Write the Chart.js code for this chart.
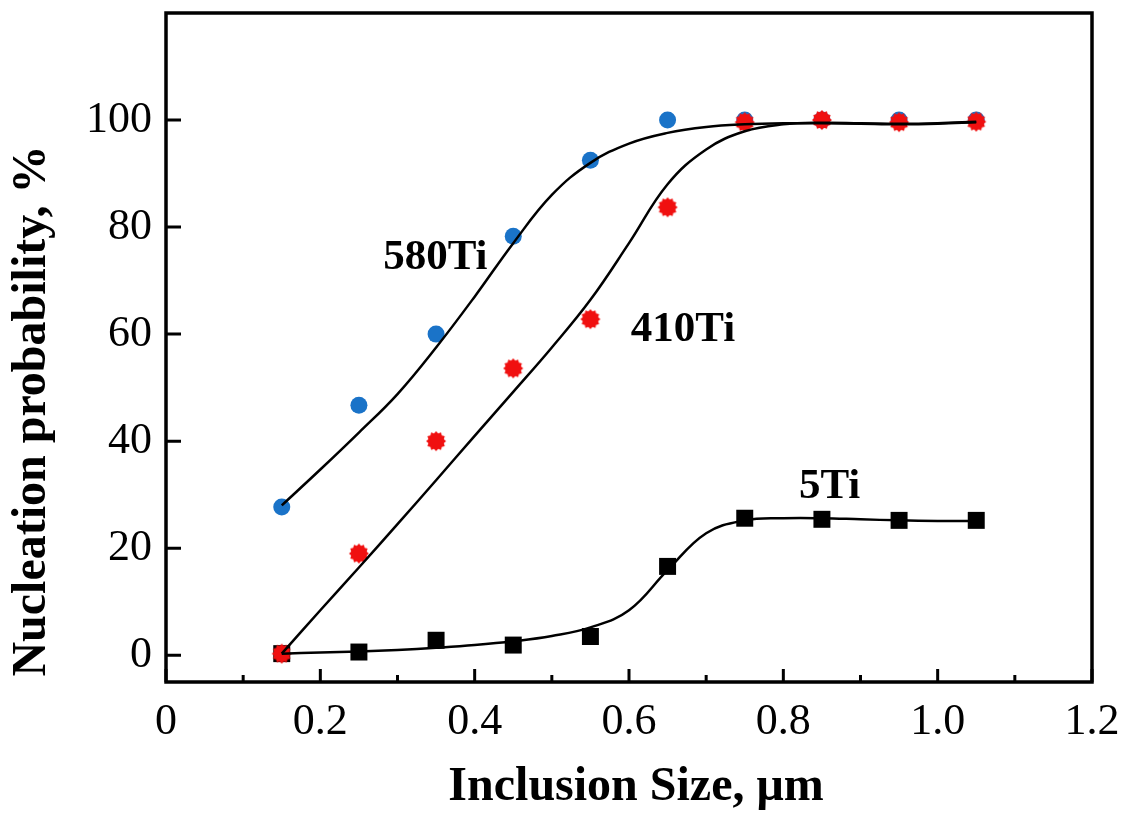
<!DOCTYPE html>
<html>
<head>
<meta charset="utf-8">
<script src="https://cdn.jsdelivr.net/npm/chart.js@4"></script>
<style>
  html, body { margin: 0; background: #fff; }
</style>
</head>
<body>
<canvas id="chart" width="1126" height="818"></canvas>
<script>
// measured points
const sizes = [0.15, 0.25, 0.35, 0.45, 0.55, 0.65, 0.75, 0.85, 0.95, 1.05];
const prob580 = [27.7, 46.7, 60.0, 78.3, 92.5, 100, 100, 100, 100, 100];
const prob410 = [0.3, 19.0, 40.0, 53.6, 62.8, 83.7, 99.6, 100, 99.6, 99.7];
const prob5 = [0.3, 0.6, 2.8, 1.9, 3.5, 16.6, 25.6, 25.4, 25.2, 25.2];

// fitted curves
const fitX = [0.15, 0.2, 0.25, 0.3, 0.35, 0.4, 0.45, 0.5, 0.55, 0.6, 0.65, 0.7, 0.75, 0.8, 0.85, 0.9, 0.95, 1.0, 1.05];
const fit580 = [28, 34.7, 41.6, 48.8, 57.5, 67, 77, 86, 92, 95.6, 97.6, 98.7, 99.2, 99.4, 99.4, 99.3, 99.2, 99.3, 99.6];
const fit410 = [0.3, 8.4, 16.4, 24.5, 32.7, 41, 49.2, 57.5, 66.4, 77, 88, 94.5, 97.9, 99.2, 99.5, 99.4, 99.3, 99.4, 99.7];
const fit5 = [0.3, 0.5, 0.7, 1.0, 1.4, 1.9, 2.6, 3.6, 5.2, 8.4, 15.9, 22.8, 25.2, 25.6, 25.6, 25.4, 25.2, 25.1, 25.1];

const xMajor = [0, 0.2, 0.4, 0.6, 0.8, 1.0, 1.2];
const xLabels = ['0', '0.2', '0.4', '0.6', '0.8', '1.0', '1.2'];
const xMinor = [0.1, 0.3, 0.5, 0.7, 0.9, 1.1];
const yMajor = [0, 20, 40, 60, 80, 100];

const xTitle = 'Inclusion Size, μm';
const yTitle = 'Nucleation probability, %';

const notes = [
    { text: '580Ti', x: 0.349, y: 74.2 },
    { text: '410Ti', x: 0.67, y: 60.7 },
    { text: '5Ti', x: 0.86, y: 31.4 }
];

function pts(xs, ys) {
    return xs.map((x, i) => ({ x: x, y: ys[i] }));
}

function burst(color, r) {
    const c = document.createElement('canvas');
    const s = Math.ceil(r * 2 + 2);
    c.width = c.height = s;
    const g = c.getContext('2d');
    g.beginPath();
    const n = 12;
    for (let i = 0; i < n * 2; i++) {
        const a = i * Math.PI / n;
        const rr = i % 2 ? r * 0.8 : r;
        g.lineTo(s / 2 + rr * Math.cos(a), s / 2 + rr * Math.sin(a));
    }
    g.closePath();
    g.fillStyle = color;
    g.fill();
    return c;
}

function noPad(s) {
    s.paddingTop = 0;
    s.paddingBottom = 0;
    s.paddingLeft = 0;
    s.paddingRight = 0;
}

const serif = '"Liberation Serif", "Times New Roman", serif';

const framePlugin = {
    id: 'frame',
    afterDraw(chart) {
        const { ctx, chartArea: a, scales } = chart;
        ctx.save();
        ctx.strokeStyle = '#000';
        ctx.lineWidth = 3;
        ctx.lineCap = 'butt';
        ctx.beginPath();
        xMajor.forEach(v => {
            const px = scales.x.getPixelForValue(v);
            ctx.moveTo(px, a.bottom);
            ctx.lineTo(px, a.bottom - 13);
        });
        xMinor.forEach(v => {
            const px = scales.x.getPixelForValue(v);
            ctx.moveTo(px, a.bottom);
            ctx.lineTo(px, a.bottom - 7);
        });
        yMajor.forEach(v => {
            const py = scales.y.getPixelForValue(v);
            ctx.moveTo(a.left, py);
            ctx.lineTo(a.left + 15, py);
        });
        ctx.stroke();
        ctx.lineWidth = 3.5;
        ctx.strokeRect(a.left, a.top, a.right - a.left, a.bottom - a.top);

        ctx.fillStyle = '#000';
        ctx.textAlign = 'center';
        ctx.textBaseline = 'middle';
        ctx.font = 'bold 43px ' + serif;
        notes.forEach(n => {
            ctx.fillText(n.text, scales.x.getPixelForValue(n.x), scales.y.getPixelForValue(n.y));
        });

        // axis titles
        ctx.font = 'bold 48px ' + serif;
        ctx.fillText(xTitle, 636, 788);
        ctx.translate(33, 411);
        ctx.rotate(-Math.PI / 2);
        ctx.fillText(yTitle, 0, 0);
        ctx.restore();
    }
};

const fitLine = {
    showLine: true,
    borderColor: '#000',
    borderWidth: 2.5,
    pointRadius: 0,
    tension: 0.4,
    order: 0
};

const ctx = document.getElementById('chart').getContext('2d');
const chart = new Chart(ctx, {
    type: 'scatter',
    data: {
        datasets: [
            { ...fitLine, label: '580Ti fit', data: pts(fitX, fit580) },
            { ...fitLine, label: '410Ti fit', data: pts(fitX, fit410) },
            { ...fitLine, label: '5Ti fit', data: pts(fitX, fit5) },
            {
                label: '410Ti',
                data: pts(sizes, prob410),
                pointStyle: burst('#f01010', 10),
                order: 1
            },
            {
                label: '580Ti',
                data: pts(sizes, prob580),
                pointStyle: 'circle',
                pointRadius: 8.5,
                backgroundColor: '#1a73c8',
                borderWidth: 0,
                order: 2
            },
            {
                label: '5Ti',
                data: pts(sizes, prob5),
                pointStyle: 'rect',
                pointRadius: 12,
                backgroundColor: '#000',
                borderWidth: 0,
                order: 3
            }
        ]
    },
    options: {
        responsive: false,
        animation: false,
        layout: { padding: { top: 13, right: 34, left: 0, bottom: 0 } },
        plugins: {
            legend: { display: false },
            tooltip: { enabled: false }
        },
        scales: {
            x: {
                type: 'linear',
                min: 0,
                max: 1.2,
                afterBuildTicks: s => { s.ticks = xMajor.map(v => ({ value: v })); },
                afterFit: s => { s.height = 136; noPad(s); },
                grid: { display: false, drawTicks: false },
                border: { display: false },
                ticks: {
                    autoSkip: false,
                    maxRotation: 0,
                    padding: 14,
                    color: '#000',
                    font: { family: serif, size: 44 },
                    callback: (v, i) => xLabels[i]
                }
            },
            y: {
                min: -5,
                max: 120,
                afterBuildTicks: s => { s.ticks = yMajor.map(v => ({ value: v })); },
                afterFit: s => { s.width = 166; noPad(s); },
                grid: { display: false, drawTicks: false },
                border: { display: false },
                ticks: {
                    padding: 14,
                    color: '#000',
                    font: { family: serif, size: 44 }
                }
            }
        }
    },
    plugins: [framePlugin]
});
</script>
</body>
</html>
